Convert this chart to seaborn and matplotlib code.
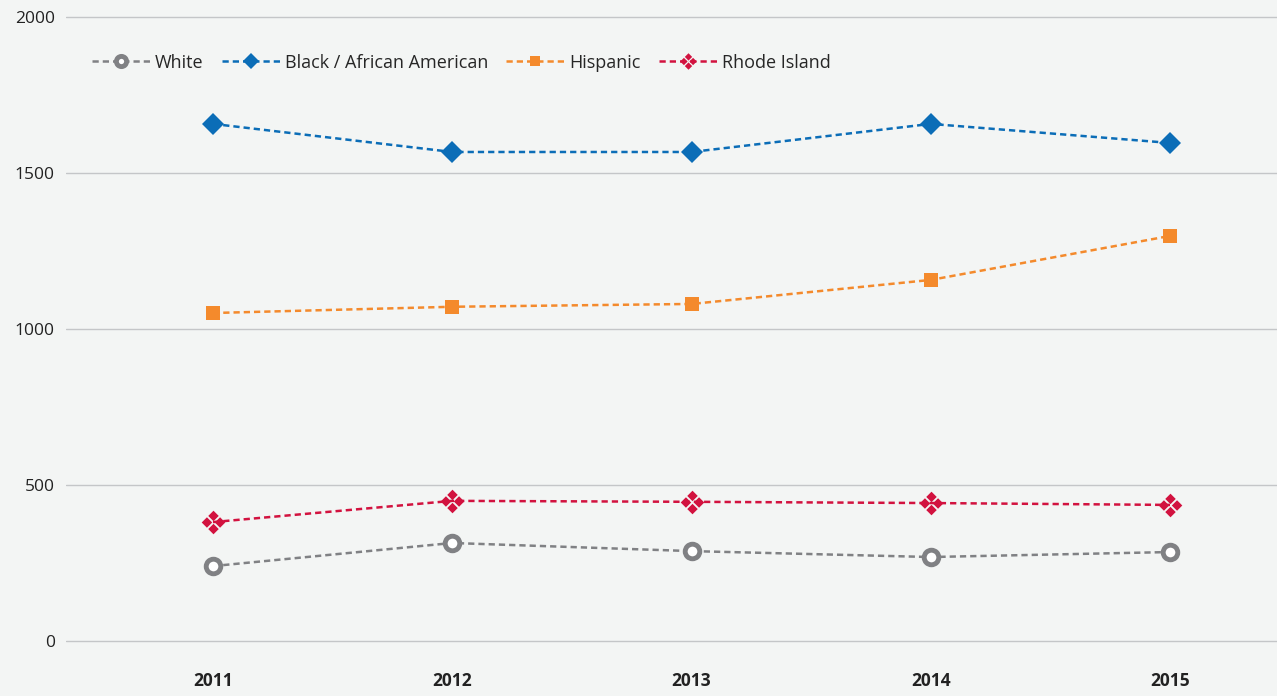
import numpy as np
import pandas as pd
import matplotlib
matplotlib.use("Agg")
import matplotlib.pyplot as plt
from matplotlib.path import Path
import seaborn as sns

# Data
years = ["2011", "2012", "2013", "2014", "2015"]
white = [240, 314, 288, 269, 285]
black = [1657, 1567, 1567, 1657, 1596]
hispanic = [1051, 1071, 1080, 1157, 1298]
rhode_island = [381, 449, 446, 442, 436]

series_names = ["White", "Black / African American", "Hispanic", "Rhode Island"]
series_values = [white, black, hispanic, rhode_island]
colors = ["#808184", "#0b6db7", "#f48a2c", "#d2123f"]

# four small diamonds arranged as a diamond
def cluster_marker():
    paths = []
    h = 0.8
    for cx, cy in [(0, 1), (1, 0), (0, -1), (-1, 0)]:
        verts = [(cx, cy + h), (cx + h, cy), (cx, cy - h), (cx - h, cy), (cx, cy + h)]
        codes = [Path.MOVETO, Path.LINETO, Path.LINETO, Path.LINETO, Path.CLOSEPOLY]
        paths.append(Path(verts, codes))
    return Path.make_compound_path(*paths)

markers = ["o", "D", "s", cluster_marker()]
msizes = [11, 11, 10, 17]

bg = "#f3f5f4"
sns.set_style("white")
plt.rcParams["font.family"] = ["Open Sans", "DejaVu Sans"]

fig = plt.figure(figsize=(12.77, 6.96), dpi=100, facecolor=bg)
ax = fig.add_axes([66 / 1277, 1 - 665 / 696, 1 - 66 / 1277, (665 - 10) / 696])
ax.set_facecolor(bg)

x = np.arange(len(years))
for name, vals, c, m, ms in zip(series_names, series_values, colors, markers, msizes):
    df = pd.DataFrame({"x": x, "y": vals})
    kw = dict(marker=m, markersize=ms, color=c, linestyle=(0, (2.5, 1.6)),
              linewidth=1.8, label=name, clip_on=False, zorder=3)
    if m == "o":
        kw.update(markerfacecolor="white", markeredgecolor=c, markeredgewidth=3.5, markersize=10.5)
    else:
        kw.update(markerfacecolor=c, markeredgecolor=c, markeredgewidth=0)
    sns.lineplot(data=df, x="x", y="y", ax=ax, **kw)

ax.set_xlim((66 - 213) / 239.25, (1277 - 213) / 239.25)
ax.set_ylim(-77, 2022)
ax.set_yticks([0, 500, 1000, 1500, 2000])
ax.set_xticks(x)
ax.set_xticklabels(years, fontweight="bold")
ax.yaxis.grid(True, color="#c4c6c8", linewidth=1)
ax.set_axisbelow(True)
for s in ax.spines.values():
    s.set_visible(False)
ax.tick_params(axis="both", length=0, labelsize=12.5, colors="#222222")
ax.tick_params(axis="x", pad=5)
ax.tick_params(axis="y", pad=8)
ax.set_xlabel("")
ax.set_ylabel("")

leg = ax.legend(loc="upper left", bbox_to_anchor=(0.008, 0.958), ncol=4, frameon=False,
                fontsize=13, handlelength=3.2, handletextpad=0.3, columnspacing=1.0,
                markerscale=0.7)

fig.savefig("out.png", dpi=100, facecolor=bg)
